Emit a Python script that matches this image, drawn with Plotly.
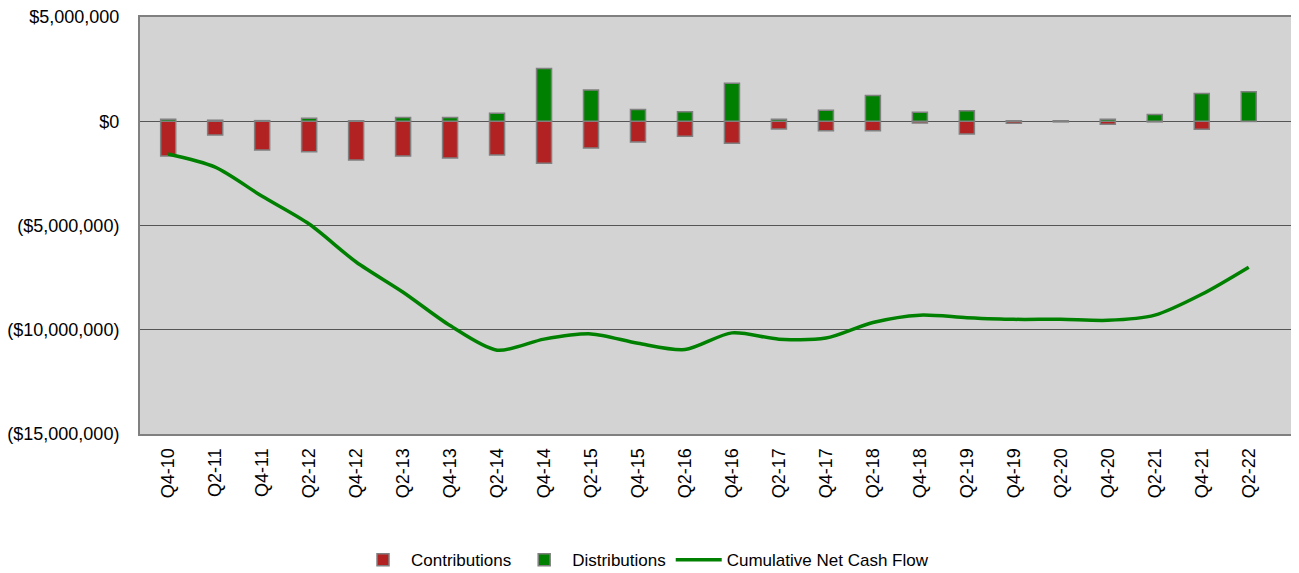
import plotly.graph_objects as go

# quarters
quarters = ['Q4-10', 'Q2-11', 'Q4-11', 'Q2-12', 'Q4-12', 'Q2-13', 'Q4-13', 'Q2-14',
            'Q4-14', 'Q2-15', 'Q4-15', 'Q2-16', 'Q4-16', 'Q2-17', 'Q4-17', 'Q2-18',
            'Q4-18', 'Q2-19', 'Q4-19', 'Q2-20', 'Q4-20', 'Q2-21', 'Q4-21', 'Q2-22']

# contributions (paid in, negative)
contributions = [-1670000, -660000, -1380000, -1460000, -1860000, -1670000, -1760000, -1620000,
                 -2020000, -1280000, -990000, -720000, -1060000, -370000, -460000, -460000,
                 -80000, -610000, -100000, -30000, -140000, -30000, -380000, -10000]

# distributions (paid out, positive)
distributions = [100000, 50000, 30000, 140000, 20000, 180000, 180000, 380000,
                 2530000, 1500000, 560000, 460000, 1820000, 100000, 530000, 1230000,
                 430000, 500000, 20000, 20000, 100000, 320000, 1330000, 1410000]

# cumulative net cash flow
cumulative = [-1570000, -2200000, -3600000, -4930000, -6750000, -8200000, -9800000, -10980000,
              -10450000, -10200000, -10650000, -10950000, -10150000, -10450000, -10400000, -9650000,
              -9300000, -9420000, -9500000, -9500000, -9550000, -9300000, -8300000, -7000000]

y_ticks = [5000000, 0, -5000000, -10000000, -15000000]
y_labels = ['$5,000,000', '$0', '($5,000,000)', '($10,000,000)', '($15,000,000)']

fig = go.Figure()
fig.add_trace(go.Bar(x=quarters, y=contributions, name='Contributions',
                     marker=dict(color='#b22222', line=dict(color='#808080', width=1.5)),
                     width=0.32))
fig.add_trace(go.Bar(x=quarters, y=distributions, name='Distributions',
                     marker=dict(color='#008000', line=dict(color='#808080', width=1.5)),
                     width=0.32))
fig.add_trace(go.Scatter(x=quarters, y=cumulative, name='Cumulative Net Cash Flow',
                         mode='lines', line=dict(color='#008000', width=3.5, shape='spline', smoothing=0.8)))

# page is drawn with an 8px offset, so margins are trimmed to land on the same spots
fig.update_layout(
    barmode='relative',
    width=1299, height=573,
    margin=dict(l=132, r=0, t=9, b=147),
    paper_bgcolor='white',
    plot_bgcolor='#d3d3d3',
    font=dict(family='Liberation Sans, Arial, sans-serif', size=18, color='black'),
    legend=dict(orientation='h', xref='container', yref='container', x=0.49, xanchor='center',
                y=0.005, yanchor='bottom', font=dict(size=17), itemwidth=46,
                traceorder='normal'),
)
fig.update_xaxes(type='category', range=[-0.6, 24.24], tickangle=-90, automargin=False,
                 showline=True, linecolor='#808080', linewidth=2, mirror=True,
                 showgrid=False, ticks='', ticklabelstandoff=5)
fig.update_yaxes(range=[-15000000, 5000000], tickvals=y_ticks, ticktext=y_labels, automargin=False,
                 showline=True, linecolor='#808080', linewidth=2, mirror=False,
                 showgrid=True, gridcolor='#555555', gridwidth=1,
                 zeroline=True, zerolinecolor='#555555', zerolinewidth=1,
                 ticks='', ticklabelstandoff=15, ticklabeloverflow='allow')

fig.write_html("out.html")
